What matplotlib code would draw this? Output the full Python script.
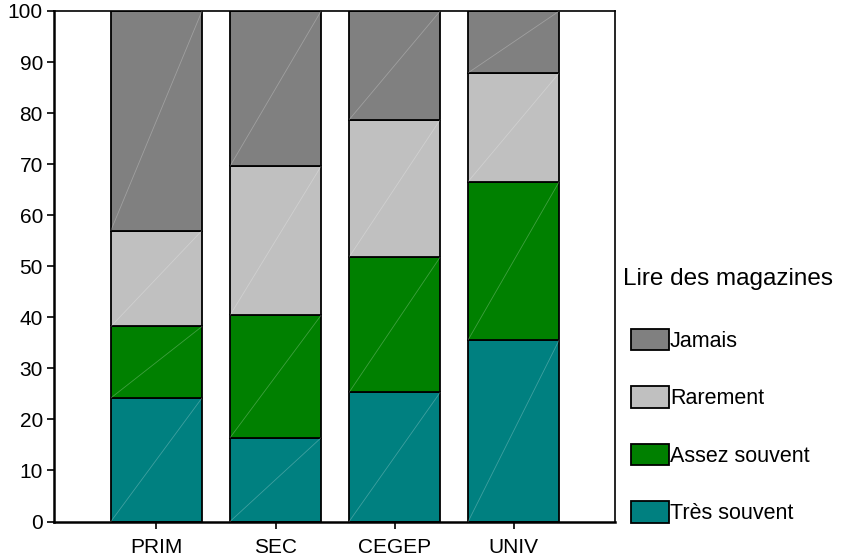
import numpy as np
import matplotlib
matplotlib.use("Agg")
import matplotlib.pyplot as plt

plt.rcParams['font.family'] = ['Liberation Sans', 'DejaVu Sans']

# niveaux scolaires
categories = ['PRIM', 'SEC', 'CEGEP', 'UNIV']
# pourcentages
tres_souvent = [24.2, 16.4, 25.3, 35.6]
assez_souvent = [14.0, 24.0, 26.5, 31.0]
rarement = [18.8, 29.2, 26.9, 21.3]
jamais = [43.0, 30.4, 21.3, 12.1]

series = [('Très souvent', tres_souvent, '#008080'),
          ('Assez souvent', assez_souvent, '#008000'),
          ('Rarement', rarement, '#c0c0c0'),
          ('Jamais', jamais, '#808080')]

fig = plt.figure(figsize=(8.59, 5.6), dpi=100)
ax = fig.add_axes([54/859, 1-521.5/560, (615-54)/859, 510.5/560])

x = np.arange(len(categories))
bottom = np.zeros(len(categories))
handles = []
for name, vals, col in series:
    bars = ax.bar(x, vals, 0.765, bottom=bottom, color=col, edgecolor='black',
                  linewidth=1.3, label=name, zorder=2)
    # petite diagonale claire dans chaque bloc
    for p in bars.patches:
        x0, y0 = p.get_x(), p.get_y()
        ax.plot([x0, x0 + p.get_width()], [y0, y0 + p.get_height()],
                color='white', alpha=0.25, lw=0.6, zorder=3)
    handles.append(bars)
    bottom += np.array(vals)

ax.set_xlim(-0.86, 3.85)
ax.set_ylim(0, 100)
ax.set_yticks(range(0, 101, 10))
ax.set_xticks(x)
ax.set_xticklabels(categories)
ax.tick_params(axis='both', labelsize=15, length=5, width=1.2, direction='out', colors='black')
ax.tick_params(axis='y', pad=3)
ax.tick_params(axis='x', pad=7)
for s in ['left', 'bottom']:
    ax.spines[s].set_linewidth(1.8)
for s in ['top', 'right']:
    ax.spines[s].set_linewidth(1.2)

fig.text(623/859, 1-285/560, 'Lire des magazines', fontsize=17.5, va='baseline', ha='left')

leg = fig.legend(handles[::-1], [s[0] for s in series][::-1],
                 loc='upper left', bbox_to_anchor=(631/859, 1-329/560), frameon=False,
                 fontsize=15.5,
                 handlelength=1.75, handleheight=1.15, handletextpad=0.05,
                 labelspacing=1.6, borderpad=0, borderaxespad=0)

fig.savefig('out.png', dpi=100)
